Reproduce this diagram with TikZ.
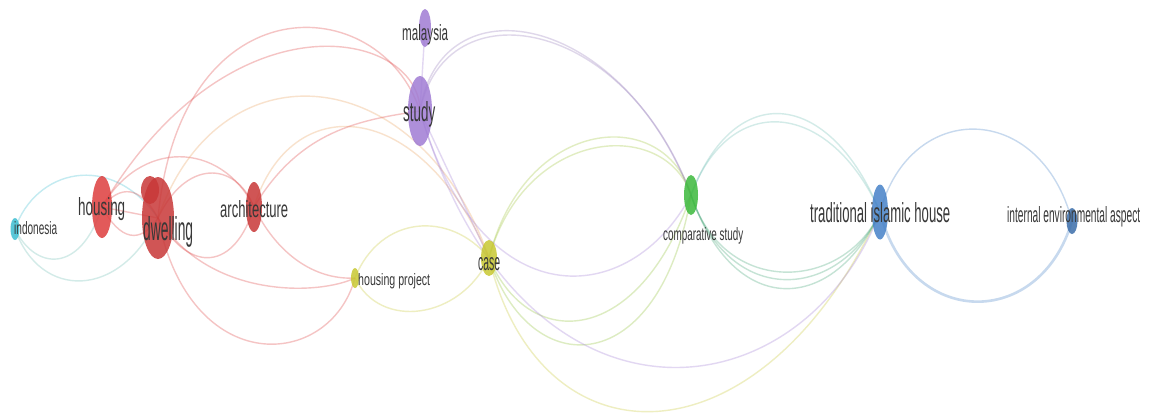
\documentclass[tikz,border=0pt]{standalone}
\usepackage{fontspec}
\setmainfont{Liberation Sans}
\usepackage{graphicx}
\usetikzlibrary{shapes.geometric}
\definecolor{cR}{RGB}{222,62,62}
\definecolor{cP}{RGB}{160,124,212}
\definecolor{cI}{RGB}{60,190,210}
\definecolor{cY}{RGB}{200,200,50}
\definecolor{cG}{RGB}{60,185,60}
\definecolor{cB}{RGB}{70,130,200}
\definecolor{cO}{RGB}{235,160,90}
\definecolor{cT}{RGB}{110,190,180}
\newcommand\lbl[3]{\resizebox{#1pt}{#2pt}{#3}}
\tikzset{
  lk/.style={line width=1.4pt, draw opacity=0.3},
  bub/.style={ellipse, inner sep=0pt, draw=none, fill opacity=0},
  lab/.style={inner sep=0pt, text=black!78, anchor=base west}
}
\begin{document}
\begin{tikzpicture}[x=1pt,y=-1pt]
\fill[white] (0,0) rectangle (1156,416);
\useasboundingbox (0,0) rectangle (1156,416);
% node placeholders (named)
\path
  (15,229) node[bub, fill=cI, minimum width=9pt, minimum height=22pt] (ind) {}
  (102,207) node[bub, fill=cR, minimum width=20pt, minimum height=62pt] (hou) {}
  (158,218) node[bub, fill=cR, minimum width=32pt, minimum height=82pt] (dwe) {}
  (254,207) node[bub, fill=cR, minimum width=16pt, minimum height=50pt] (arc) {}
  (425,28) node[bub, fill=cP, minimum width=12pt, minimum height=38pt] (mal) {}
  (420,111) node[bub, fill=cP, minimum width=24pt, minimum height=70pt] (stu) {}
  (355,278) node[bub, fill=cY, minimum width=8pt, minimum height=20pt] (hp) {}
  (489,258) node[bub, fill=cY, minimum width=16pt, minimum height=36pt] (cas) {}
  (691,195) node[bub, fill=cG, minimum width=14pt, minimum height=40pt] (cs) {}
  (880,212) node[bub, fill=cB, minimum width=16pt, minimum height=55pt] (tih) {}
  (1072,221) node[bub, fill=cB, minimum width=11pt, minimum height=26pt] (iea) {};
% links
% indonesia
\draw[lk, cI] (ind.center) .. controls (35,170) and (110,150) .. (dwe.center);
\draw[lk, cT] (ind.center) .. controls (35,270) and (80,275) .. (hou.center);
\draw[lk, cT] (ind.center) .. controls (40,300) and (120,300) .. (dwe.center);
% red cluster
\draw[lk, cR] (hou.center) .. controls (120,185) and (140,185) .. (dwe.center);
\draw[lk, cR] (hou.center) .. controls (120,240) and (140,245) .. (dwe.center);
\draw[lk, cR] (hou.center) -- (dwe.center);
\draw[lk, cR] (hou.center) .. controls (140,140) and (220,140) .. (arc.center);
\draw[lk, cR] (dwe.center) .. controls (185,160) and (235,160) .. (arc.center);
\draw[lk, cR] (dwe.center) .. controls (190,275) and (235,270) .. (arc.center);
\draw[lk, cR] (dwe.center) .. controls (180,-20) and (380,-10) .. (stu.center);
\draw[lk, cR] (hou.center) .. controls (230,-10) and (420,30) .. (stu.center);
\draw[lk, cO] (dwe.center) .. controls (220,40) and (420,60) .. (cas.center);
\draw[lk, cO] (arc.center) .. controls (290,90) and (420,95) .. (cas.center);
\draw[lk, cR] (arc.center) .. controls (300,130) and (360,120) .. (stu.center);
\draw[lk, cR] (dwe.center) .. controls (190,380) and (330,370) .. (hp.center);
\draw[lk, cR] (dwe.center) .. controls (210,300) and (320,295) .. (hp.center);
\draw[lk, cR] (arc.center) .. controls (280,260) and (320,280) .. (hp.center);
% yellow cluster
\draw[lk, cY] (hp.center) .. controls (380,330) and (460,320) .. (cas.center);
\draw[lk, cY] (hp.center) .. controls (380,215) and (450,210) .. (cas.center);
\draw[lk, cY!70!cG] (cas.center) .. controls (525,115) and (665,105) .. (cs.center);
\draw[lk, cY!70!cG] (cas.center) .. controls (525,127) and (665,117) .. (cs.center);
\draw[lk, cY!60!cG] (cas.center) .. controls (530,355) and (640,345) .. (cs.center);
\draw[lk, cY!60!cG] (cas.center) .. controls (530,385) and (660,380) .. (cs.center);
\draw[lk, cY] (cas.center) .. controls (540,470) and (760,470) .. (tih.center);
% purple cluster
\draw[lk, cP] (mal.center) -- (stu.center);
\draw[lk, cP] (stu.center) -- (cas.center);
\draw[lk, cP!70!gray] (stu.center) .. controls (440,-20) and (620,10) .. (cs.center);
\draw[lk, cP!70!gray] (stu.center) .. controls (445,-14) and (625,16) .. (cs.center);
\draw[lk, cP] (stu.center) .. controls (480,320) and (630,310) .. (cs.center);
\draw[lk, cP] (stu.center) .. controls (520,450) and (800,420) .. (tih.center);
% green cluster
\draw[lk, cT] (cs.center) .. controls (730,90) and (830,100) .. (tih.center);
\draw[lk, cT] (cs.center) .. controls (735,78) and (830,90) .. (tih.center);
\draw[lk, cG!60!cB] (cs.center) .. controls (730,310) and (840,300) .. (tih.center);
\draw[lk, cG!60!cB] (cs.center) .. controls (725,300) and (845,290) .. (tih.center);
\draw[lk, cG!60!cB] (cs.center) .. controls (735,322) and (835,312) .. (tih.center);
% blue cluster
\draw[lk, cB] (tih.center) .. controls (910,100) and (1040,100) .. (iea.center);
\draw[lk, cB, line width=2.6pt] (tih.center) .. controls (910,330) and (1040,330) .. (iea.center);
% node bubbles on top
\fill[cI, opacity=0.85] (ind) ellipse (4.5pt and 11pt);
\fill[cR, opacity=0.85] (hou) ellipse (10pt and 31pt);
\fill[cR!90!black, opacity=0.85] (dwe) ellipse (16pt and 41pt);
\fill[cR!90!black, opacity=0.85] (150,190) ellipse (9pt and 14pt);
\fill[cR!90!black, opacity=0.85] (arc) ellipse (8pt and 25pt);
\fill[cP, opacity=0.85] (mal) ellipse (6pt and 19pt);
\fill[cP, opacity=0.85] (stu) ellipse (12pt and 35pt);
\fill[cY, opacity=0.85] (hp) ellipse (4pt and 10pt);
\fill[cY, opacity=0.85] (cas) ellipse (8pt and 18pt);
\fill[cG, opacity=0.85] (cs) ellipse (7pt and 20pt);
\fill[cB, opacity=0.85] (tih) ellipse (8pt and 27.5pt);
\fill[cB!85!black, opacity=0.85] (iea) ellipse (5.5pt and 13pt);
% labels
\node[lab] (t-ind) at (14,234) {\lbl{43}{13}{indonesia}};
\node[lab] (t-hou) at (78,215) {\lbl{47}{18}{housing}};
\node[lab] (t-dwe) at (143,240) {\lbl{50}{24}{dwelling}};
\node[lab] (t-arc) at (220,217) {\lbl{68}{17}{architecture}};
\node[lab] (t-mal) at (402,40) {\lbl{46}{16}{malaysia}};
\node[lab] (t-stu) at (403,121) {\lbl{32}{20}{study}};
\node[lab] (t-hp) at (358,285) {\lbl{72}{12}{housing project}};
\node[lab] (t-cas) at (478,270) {\lbl{22}{13}{case}};
\node[lab] (t-cs) at (663,240) {\lbl{80}{13}{comparative study}};
\node[lab] (t-tih) at (810,222) {\lbl{140}{20}{traditional islamic house}};
\node[lab] (t-iea) at (1007,222) {\lbl{133}{16}{internal environmental aspect}};
\end{tikzpicture}
\end{document}
